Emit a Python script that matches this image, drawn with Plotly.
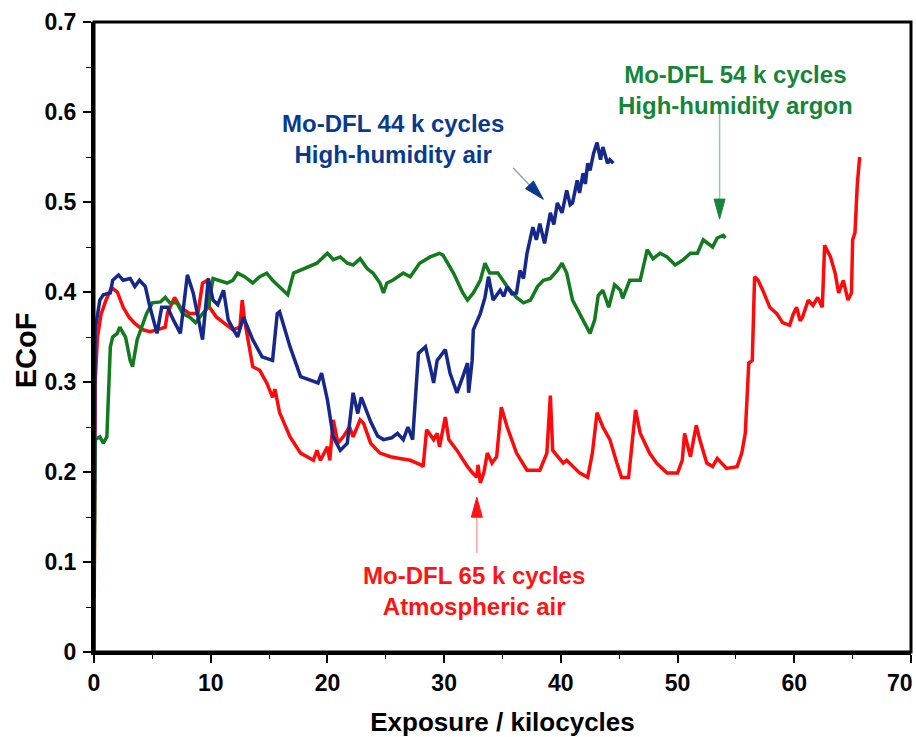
import plotly.graph_objects as go
import math

# ---------------- data ----------------
red_x = [0, 0.05, 0.1, 0.3, 0.6, 1.0, 1.5, 2.0, 2.5, 3.0, 3.5, 4.2, 4.8, 5.4, 6.1, 6.3, 6.9, 7.4, 8.2, 8.9,
         9.3, 9.7, 9.9, 10.5, 11.1, 11.9, 12.5, 12.7, 12.9, 13.6, 14.2, 14.8, 15.3, 15.5, 15.9, 16.8, 17.7,
         18.8, 19.1, 19.4, 20.0, 20.2, 20.5, 20.9, 21.4, 21.9, 22.2, 22.8, 23.1, 23.7, 24.5, 25.4, 26.2, 27.1,
         28.0, 28.2, 28.5, 29.1, 29.4, 29.6, 30.1, 30.4, 31.1, 32.0, 32.5, 32.8, 32.9, 33.1, 33.4, 33.7, 34.1,
         34.5, 34.9, 35.4, 36.2, 37.1, 38.2, 38.8, 39.1, 39.3, 40.2, 40.5, 41.6, 42.3, 42.7, 43.1, 43.6, 44.2,
         44.8, 45.2, 45.8, 46.1, 46.4, 46.8, 47.6, 48.2, 49.1, 50.0, 50.4, 50.6, 51.1, 51.6, 51.9, 52.5, 53.0,
         53.4, 54.2, 55.1, 55.5, 55.8, 56.1, 56.4, 56.6, 56.9, 57.3, 57.9, 58.5, 59.0, 59.6, 59.9, 60.2, 60.5,
         60.7, 61.2, 61.6, 62.0, 62.4, 62.6, 63.1, 63.5, 63.8, 64.2, 64.6, 64.9, 65.0, 65.2, 65.4, 65.6]
red_y = [0.0, 0.15, 0.30, 0.35, 0.375, 0.39, 0.405, 0.40, 0.383, 0.372, 0.365, 0.358, 0.356, 0.358, 0.361,
         0.377, 0.394, 0.383, 0.376, 0.376, 0.41, 0.413, 0.383, 0.372, 0.366, 0.358, 0.361, 0.391, 0.369, 0.317,
         0.313, 0.299, 0.283, 0.292, 0.266, 0.239, 0.221, 0.213, 0.224, 0.213, 0.228, 0.213, 0.258, 0.232, 0.24,
         0.25, 0.239, 0.258, 0.254, 0.232, 0.221, 0.217, 0.215, 0.213, 0.208, 0.206, 0.247, 0.236, 0.243, 0.228,
         0.261, 0.236, 0.224, 0.206, 0.198, 0.194, 0.208, 0.188, 0.199, 0.221, 0.21, 0.217, 0.272, 0.25, 0.221,
         0.202, 0.202, 0.221, 0.285, 0.224, 0.21, 0.213, 0.199, 0.194, 0.221, 0.266, 0.25, 0.236, 0.21, 0.194,
         0.194, 0.228, 0.269, 0.243, 0.221, 0.21, 0.199, 0.199, 0.213, 0.243, 0.217, 0.252, 0.236, 0.21, 0.206,
         0.215, 0.204, 0.206, 0.221, 0.243, 0.321, 0.324, 0.417, 0.413, 0.402, 0.383, 0.376, 0.366, 0.363,
         0.375, 0.383, 0.368, 0.372, 0.391, 0.385, 0.394, 0.383, 0.452, 0.439, 0.421, 0.399, 0.413, 0.391,
         0.399, 0.458, 0.466, 0.52, 0.55]

blue_x = [0, 0.05, 0.1, 0.5, 0.8, 1.4, 1.6, 2.1, 2.5, 3.1, 3.5, 3.9, 4.4, 4.8, 5.4, 5.8, 6.3, 6.8, 7.4, 8.0,
          8.5, 9.3, 9.8, 10.2, 10.6, 11.1, 11.5, 12.3, 12.8, 13.6, 14.4, 15.3, 15.7, 15.9, 16.8, 17.7, 18.5,
          19.2, 19.5, 20.0, 20.5, 21.1, 21.7, 22.2, 22.6, 22.9, 23.7, 24.3, 24.8, 25.5, 26.0, 26.5, 26.9, 27.3,
          27.8, 28.4, 28.8, 29.1, 29.4, 30.1, 30.5, 31.1, 31.6, 32.0, 32.1, 32.4, 32.5, 33.1, 33.5, 33.8, 34.2,
          34.8, 35.1, 35.4, 35.8, 36.2, 36.5, 36.8, 37.1, 37.4, 37.6, 37.9, 38.2, 38.6, 39.1, 39.4, 39.7, 40.1,
          40.5, 40.8, 41.0, 41.4, 41.6, 41.9, 42.1, 42.3, 42.5, 42.8, 43.1, 43.4, 43.6, 44.0, 44.2, 44.5]
blue_y = [0.06, 0.25, 0.358, 0.391, 0.397, 0.399, 0.413, 0.419, 0.413, 0.415, 0.406, 0.413, 0.406, 0.383,
          0.354, 0.383, 0.383, 0.369, 0.354, 0.419, 0.399, 0.347, 0.415, 0.391, 0.386, 0.402, 0.369, 0.35,
          0.372, 0.347, 0.328, 0.324, 0.376, 0.378, 0.339, 0.306, 0.302, 0.299, 0.31, 0.28, 0.239, 0.224, 0.232,
          0.288, 0.265, 0.283, 0.256, 0.24, 0.236, 0.238, 0.243, 0.236, 0.25, 0.236, 0.332, 0.339, 0.317, 0.299,
          0.324, 0.336, 0.31, 0.288, 0.306, 0.321, 0.288, 0.324, 0.358, 0.376, 0.394, 0.417, 0.391, 0.402, 0.395,
          0.406, 0.398, 0.399, 0.424, 0.415, 0.443, 0.461, 0.472, 0.458, 0.476, 0.454, 0.488, 0.475, 0.499,
          0.488, 0.513, 0.497, 0.499, 0.524, 0.51, 0.532, 0.52, 0.543, 0.535, 0.554, 0.566, 0.547, 0.561, 0.543,
          0.547, 0.543]

green_x = [0, 0.05, 0.1, 0.5, 0.8, 1.1, 1.4, 1.6, 2.0, 2.2, 2.7, 3.1, 3.3, 3.7, 4.1, 4.5, 5.0, 5.7, 6.1, 6.5,
           7.1, 7.6, 8.2, 8.7, 9.3, 9.8, 10.2, 10.8, 11.4, 11.9, 12.3, 12.9, 13.6, 14.2, 14.8, 15.3, 15.9, 16.6,
           17.1, 17.7, 18.5, 19.1, 20.0, 20.5, 21.1, 21.7, 22.2, 22.8, 23.4, 23.9, 24.5, 24.8, 25.1, 25.6, 26.5,
           27.1, 27.9, 28.8, 29.6, 29.9, 30.8, 31.6, 32.0, 32.5, 33.1, 33.5, 33.9, 34.6, 35.4, 36.2, 36.8, 37.4,
           38.0, 38.5, 39.1, 39.7, 40.1, 40.5, 41.0, 41.6, 42.2, 42.5, 42.9, 43.2, 43.6, 44.1, 44.6, 45.1, 45.3,
           45.9, 46.8, 47.4, 47.9, 48.5, 49.1, 49.8, 50.5, 51.1, 51.7, 52.2, 53.0, 53.4, 53.9, 54.1]
green_y = [0.05, 0.15, 0.236, 0.239, 0.232, 0.239, 0.339, 0.35, 0.354, 0.361, 0.35, 0.324, 0.317, 0.347,
           0.361, 0.376, 0.388, 0.389, 0.394, 0.388, 0.388, 0.376, 0.372, 0.366, 0.376, 0.383, 0.415, 0.413,
           0.41, 0.413, 0.421, 0.417, 0.41, 0.417, 0.421, 0.413, 0.406, 0.397, 0.421, 0.424, 0.428, 0.432, 0.443,
           0.436, 0.439, 0.432, 0.43, 0.437, 0.426, 0.421, 0.41, 0.399, 0.41, 0.413, 0.421, 0.417, 0.432, 0.439,
           0.443, 0.441, 0.421, 0.399, 0.391, 0.399, 0.413, 0.432, 0.421, 0.421, 0.406, 0.394, 0.388, 0.391,
           0.406, 0.413, 0.415, 0.424, 0.432, 0.421, 0.391, 0.376, 0.361, 0.354, 0.369, 0.396, 0.402, 0.383,
           0.408, 0.402, 0.393, 0.413, 0.413, 0.447, 0.437, 0.443, 0.439, 0.43, 0.436, 0.443, 0.443, 0.458, 0.45,
           0.46, 0.463, 0.46]

x_ticks = [0, 10, 20, 30, 40, 50, 60, 70]
x_ticktext = ["0", "10", "20", "30", "40", "50", "60", "70"]
y_ticks = [0, 0.1, 0.2, 0.3, 0.4, 0.5, 0.6, 0.7]
y_ticktext = ["0", "0.1", "0.2", "0.3", "0.4", "0.5", "0.6", "0.7"]

# ---------------- styling ----------------
RED_LINE, GREEN_LINE, BLUE_LINE = "#ff0a0a", "#137a1f", "#16298a"
RED_TXT, GREEN_TXT, BLUE_TXT = "#ff1414", "#16853a", "#0a3a8c"

W, H = 916, 737
ML, MR, MT, MB = 94, 5, 22, 85
XR = (0, 70)
YR = (0, 0.7)
pxx = (W - ML - MR) / (XR[1] - XR[0])
pxy = (H - MT - MB) / (YR[1] - YR[0])

FONT = "Liberation Sans, Arial, sans-serif"
TICKFONT = dict(family=FONT, size=23, color="black", weight="bold")

fig = go.Figure()
for xs, ys, c, n in [(red_x, red_y, RED_LINE, "Mo-DFL 65 k cycles, atmospheric air"),
                     (green_x, green_y, GREEN_LINE, "Mo-DFL 54 k cycles, high-humidity argon"),
                     (blue_x, blue_y, BLUE_LINE, "Mo-DFL 44 k cycles, high-humidity air")]:
    fig.add_trace(go.Scatter(x=xs, y=ys, mode="lines", name=n,
                             line=dict(color=c, width=3.5), showlegend=False))

shapes = []


def arrow(tail, tip, head_color, shaft_color, L=20, Wd=11):
    # work in pixel space, convert back to data units
    tx, ty = tail[0] * pxx, tail[1] * pxy
    hx, hy = tip[0] * pxx, tip[1] * pxy
    dx, dy = hx - tx, hy - ty
    d = math.hypot(dx, dy)
    ux, uy = dx / d, dy / d
    nx, ny = -uy, ux
    bx, by = hx - L * ux, hy - L * uy
    shapes.append(dict(type="line", xref="x", yref="y", x0=tail[0], y0=tail[1],
                       x1=bx / pxx, y1=by / pxy, line=dict(color=shaft_color, width=1.5)))
    p1 = (hx / pxx, hy / pxy)
    p2 = ((bx + nx * Wd / 2) / pxx, (by + ny * Wd / 2) / pxy)
    p3 = ((bx - nx * Wd / 2) / pxx, (by - ny * Wd / 2) / pxy)
    path = "M {},{} L {},{} L {},{} Z".format(p1[0], p1[1], p2[0], p2[1], p3[0], p3[1])
    shapes.append(dict(type="path", xref="x", yref="y", path=path,
                       fillcolor=head_color, line=dict(color=head_color, width=1)))


arrow((32.8, 0.110), (32.8, 0.172), RED_TXT, "#ffa0a0")
arrow((35.9, 0.538), (38.5, 0.503), BLUE_TXT, "#9aa0b8")
arrow((53.6, 0.599), (53.6, 0.481), GREEN_TXT, "#9cc7a4")

# plot frame (box)
shapes.append(dict(type="rect", xref="paper", yref="paper", x0=0, x1=1, y0=0, y1=1,
                   line=dict(color="black", width=3), layer="above"))

annots = [
    dict(x=25.6, y=0.57, text="Mo-DFL 44 k cycles<br>High-humidity air", color=BLUE_TXT),
    dict(x=55.0, y=0.624, text="Mo-DFL 54 k cycles<br>High-humidity argon", color=GREEN_TXT),
    dict(x=32.6, y=0.068, text="Mo-DFL 65 k cycles<br>Atmospheric air", color=RED_TXT),
]
for a in annots:
    fig.add_annotation(x=a["x"], y=a["y"], xref="x", yref="y", text=a["text"], showarrow=False,
                       align="center", xanchor="center", yanchor="middle",
                       font=dict(family=FONT, size=24, color=a["color"], weight="bold"))

# y-axis title
fig.add_annotation(x=0, y=0.479, xref="paper", yref="paper", xshift=-68, text="ECoF",
                   textangle=-90, showarrow=False, xanchor="center", yanchor="middle",
                   font=dict(family=FONT, size=29, color="black", weight="bold"))

# last x tick label placed so it stays inside the page
fig.add_annotation(x=x_ticks[-1], y=0, xref="x", yref="paper", xshift=4, yshift=-31,
                   text=x_ticktext[-1], showarrow=False, xanchor="right", yanchor="middle",
                   font=TICKFONT)

axis_common = dict(showline=True, linecolor="black", linewidth=3, mirror=False,
                   ticks="outside", ticklen=8, tickwidth=1.5, tickcolor="black",
                   showgrid=False, zeroline=False, tickfont=TICKFONT)

fig.update_xaxes(range=list(XR), tickvals=x_ticks, ticktext=x_ticktext[:-1] + [""],
                 minor=dict(ticks="outside", ticklen=4, tickwidth=1.2, tickcolor="black", dtick=5, tick0=0),
                 title=dict(text="Exposure / kilocycles",
                            font=dict(family=FONT, size=26, color="black", weight="bold"), standoff=22),
                 **axis_common)
fig.update_yaxes(range=list(YR), tickvals=y_ticks, ticktext=y_ticktext, ticklabelstandoff=2,
                 minor=dict(ticks="outside", ticklen=5, tickwidth=1.2, tickcolor="black", dtick=0.05, tick0=0),
                 **axis_common)

fig.update_layout(width=W, height=H, margin=dict(l=ML, r=MR, t=MT, b=MB, autoexpand=False),
                  paper_bgcolor="white", plot_bgcolor="white", shapes=shapes, showlegend=False)

fig.write_html("out.html")
